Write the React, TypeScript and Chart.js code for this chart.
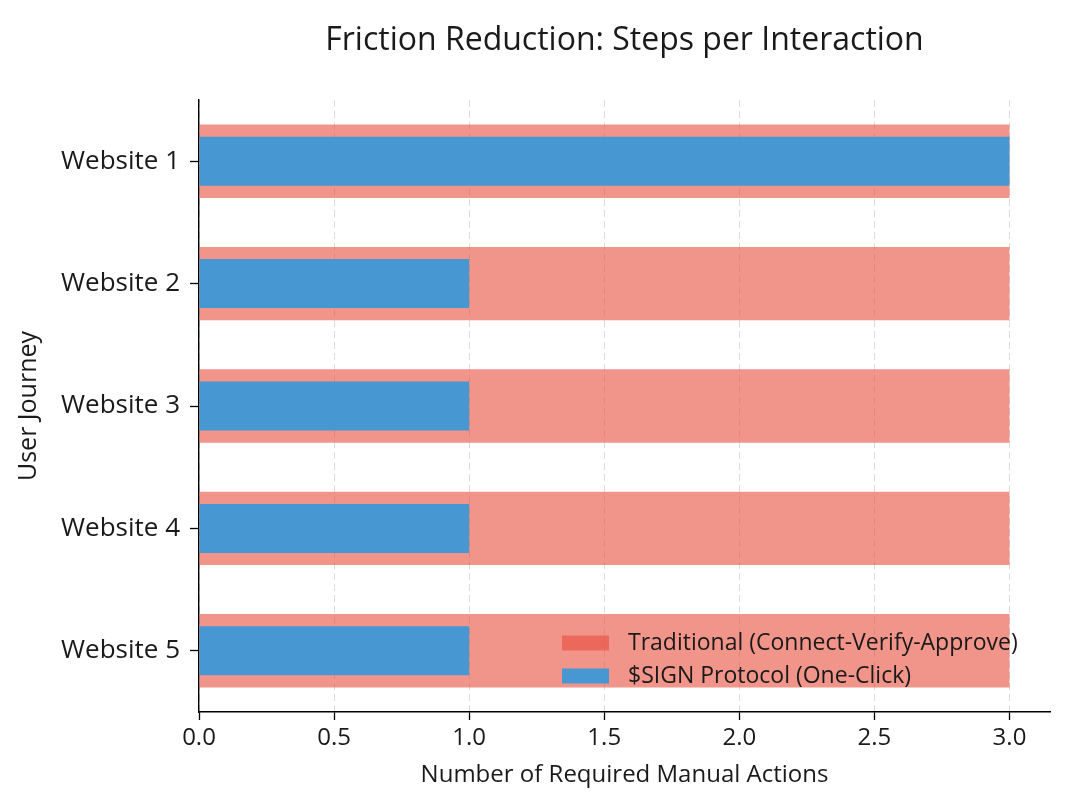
import React, { useEffect, useRef } from "react";
import { Chart, registerables } from "chart.js";

Chart.register(...registerables);

const categories = ["Website 1", "Website 2", "Website 3", "Website 4", "Website 5"];
const traditionalSteps = [3, 3, 3, 3, 3];
const signSteps = [3, 1, 1, 1, 1];
const xTickValues = [0, 0.5, 1.0, 1.5, 2.0, 2.5, 3.0];
const seriesLabels = ["Traditional (Connect-Verify-Approve)", "$SIGN Protocol (One-Click)"];
const titleText = "Friction Reduction: Steps per Interaction";
const xAxisTitle = "Number of Required Manual Actions";
const yAxisTitle = "User Journey";
const X_MIN = 0;
const X_MAX = 3.15;

const FONT = "'Open Sans', 'DejaVu Sans', sans-serif";
const TEXT = "#1a1a1a";
const TRAD_COLOR = "rgba(231, 76, 60, 0.6)";
const SIGN_COLOR = "rgba(52, 152, 219, 0.9)";

const titlePlugin = {
  id: "centeredTitle",
  afterDraw(chart: any) {
    const { ctx, chartArea } = chart;
    ctx.save();
    ctx.font = `32px ${FONT}`;
    ctx.fillStyle = TEXT;
    ctx.textAlign = "center";
    ctx.textBaseline = "middle";
    ctx.fillText(titleText, (chartArea.left + chartArea.right) / 2, 41);
    ctx.restore();
  },
};

const innerLegendPlugin = {
  id: "innerLegend",
  afterDatasetsDraw(chart: any) {
    const { ctx, chartArea } = chart;
    const datasets = chart.data.datasets;
    const boxX = chartArea.right - 488;
    const boxW = 47;
    const boxH = 15;
    const rowGap = 33;
    const firstY = chartArea.bottom - 36 - rowGap * (datasets.length - 1);
    ctx.save();
    ctx.font = `23px ${FONT}`;
    ctx.textBaseline = "middle";
    ctx.textAlign = "left";
    datasets.forEach((ds: any, i: number) => {
      const cy = firstY + i * rowGap;
      ctx.fillStyle = ds.backgroundColor;
      ctx.fillRect(boxX, cy - boxH / 2, boxW, boxH);
      ctx.fillStyle = TEXT;
      ctx.fillText(ds.label, boxX + boxW + 19, cy);
    });
    ctx.restore();
  },
};

export default function App() {
  const canvasRef = useRef<HTMLCanvasElement | null>(null);

  useEffect(() => {
    if (!canvasRef.current) return;
    const chart = new Chart(canvasRef.current, {
      type: "bar",
      data: {
        labels: categories,
        datasets: [
          {
            label: seriesLabels[0],
            data: traditionalSteps,
            backgroundColor: TRAD_COLOR,
            borderWidth: 0,
            barPercentage: 0.6,
            categoryPercentage: 1.0,
            grouped: false,
            order: 2,
          },
          {
            label: seriesLabels[1],
            data: signSteps,
            backgroundColor: SIGN_COLOR,
            borderWidth: 0,
            barPercentage: 0.4,
            categoryPercentage: 1.0,
            grouped: false,
            order: 1,
          },
        ],
      },
      options: {
        indexAxis: "y",
        animation: false,
        responsive: true,
        maintainAspectRatio: false,
        layout: { padding: { top: 100, right: 17, left: 0, bottom: 0 } },
        plugins: {
          legend: { display: false },
          title: { display: false },
          tooltip: { enabled: false },
        },
        scales: {
          x: {
            type: "linear",
            position: "bottom",
            min: X_MIN,
            max: X_MAX,
            afterBuildTicks: (scale: any) => {
              scale.ticks = xTickValues.map((v) => ({ value: v }));
            },
            afterFit: (scale: any) => {
              scale.height = 92;
            },
            ticks: {
              callback: (v: any) => Number(v).toFixed(1),
              font: { family: FONT, size: 24 },
              color: TEXT,
              padding: 4,
              maxRotation: 0,
              autoSkip: false,
            },
            grid: {
              color: "#dcdcdc",
              lineWidth: 1,
              tickColor: "#000",
              tickLength: 8,
              tickWidth: 1.3,
            },
            border: { color: "#000", width: 1.4, dash: [7, 4] },
            title: {
              display: true,
              text: xAxisTitle,
              font: { family: FONT, size: 24 },
              color: TEXT,
              padding: { top: 4, bottom: 14 },
            },
          },
          y: {
            type: "category",
            offset: true,
            afterFit: (scale: any) => {
              scale.width = 199;
            },
            ticks: {
              font: { family: FONT, size: 26 },
              color: TEXT,
              padding: 10,
            },
            grid: {
              offset: false,
              drawOnChartArea: false,
              drawTicks: true,
              tickColor: "#000",
              tickLength: 9,
              tickWidth: 1.3,
            },
            border: { color: "#000", width: 1.4 },
            title: {
              display: true,
              text: yAxisTitle,
              font: { family: FONT, size: 25 },
              color: TEXT,
              padding: { top: 14, bottom: 4 },
            },
          },
        },
      },
      plugins: [titlePlugin, innerLegendPlugin],
    } as any);
    return () => chart.destroy();
  }, []);

  return (
    <div style={{ position: "fixed", left: 0, top: 0, width: 1067, height: 804, background: "#fff" }}>
      <canvas ref={canvasRef} />
    </div>
  );
}
